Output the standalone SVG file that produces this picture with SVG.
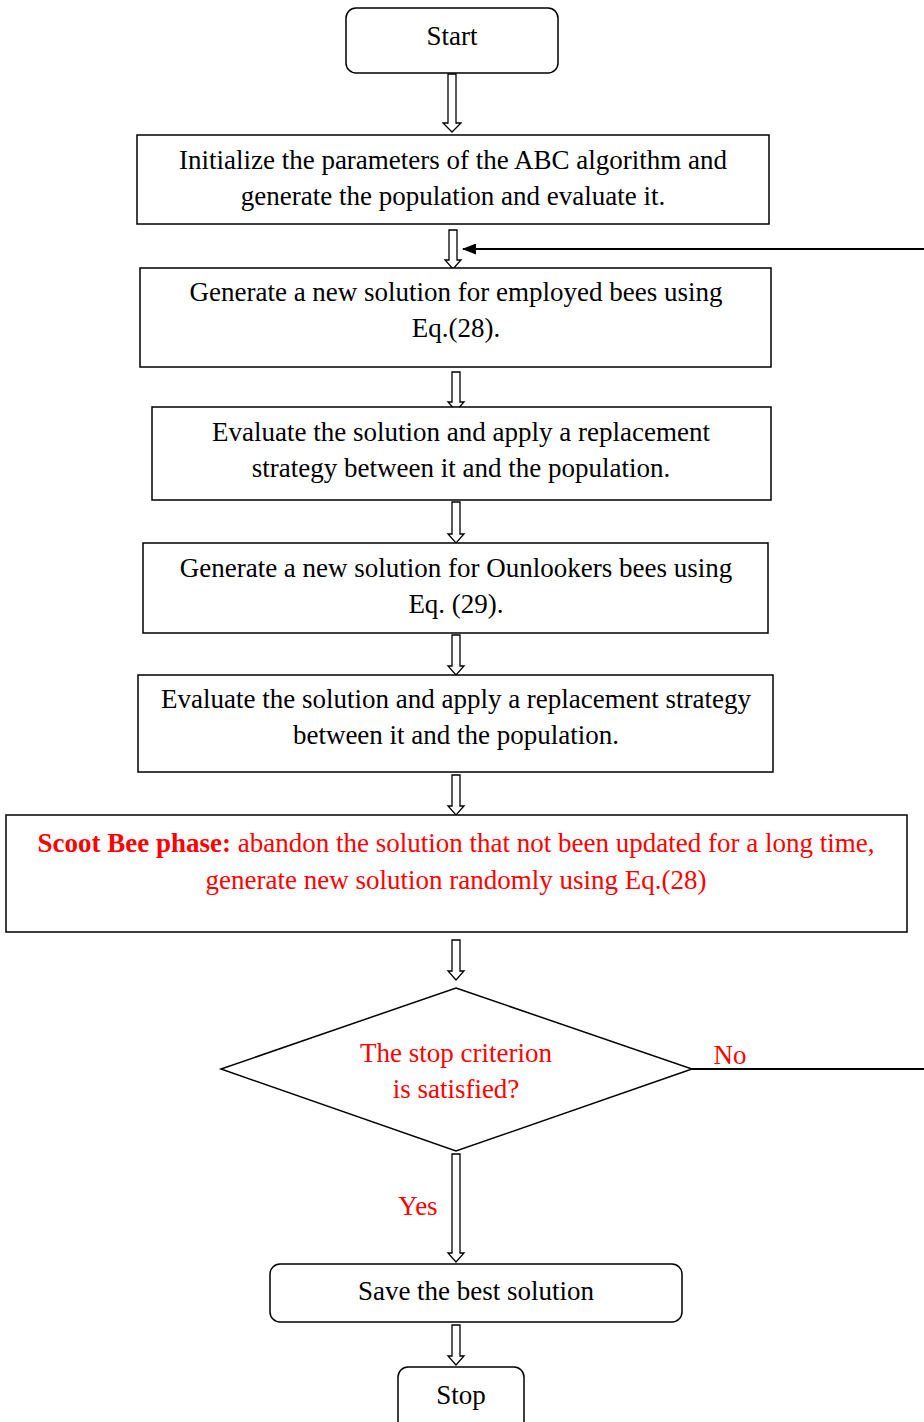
<svg xmlns="http://www.w3.org/2000/svg" width="924" height="1422" viewBox="0 0 924 1422">
<style>
.box{fill:#fff;stroke:#000;stroke-width:1.5}
.t{font-family:"Liberation Serif","Times New Roman",serif;font-size:27px;fill:#000;text-anchor:middle}
.r{fill:#f00}
.ha{fill:#fff;stroke:#000;stroke-width:1.3}
.ln{stroke:#000;stroke-width:2;fill:none}
</style>
<defs>
<marker id="ah" viewBox="0 0 14 11" refX="13" refY="5.5" markerWidth="14" markerHeight="11" markerUnits="userSpaceOnUse" orient="auto"><path d="M0,0L14,5.5L0,11z" fill="#000"/></marker>
</defs>
<g id="connectors">
<path class="ha" d="M448,74V123H443L452,132L461,123H456V74Z"/>
<path class="ha" d="M449,230V260H445L453,269L461,260H457V230Z"/>
<path class="ha" d="M452,372V402H448L456,411L464,402H460V372Z"/>
<path class="ha" d="M452,502V534H448L456,543L464,534H460V502Z"/>
<path class="ha" d="M452,635V666H448L456,675L464,666H460V635Z"/>
<path class="ha" d="M452,775V806H448L456,815L464,806H460V775Z"/>
<path class="ha" d="M452,940V971H448L456,980L464,971H460V940Z"/>
<path class="ha" d="M452,1154V1253H448L456,1262L464,1253H460V1154Z"/>
<path class="ha" d="M452,1325V1356H448L456,1365L464,1356H460V1325Z"/>
<path class="ln" d="M692,1069H924"/>
<path class="ln" d="M924,249H463" marker-end="url(#ah)"/>
<text class="t r" x="730" y="1064">No</text>
<text class="t r" x="418" y="1215">Yes</text>
</g>
<g id="start"><rect class="box" x="346" y="8" width="212" height="65" rx="10"/><text class="t" x="452" y="45">Start</text></g>
<g id="init"><rect class="box" x="137" y="135" width="632" height="89"/><text class="t" x="453" y="169">Initialize the parameters of the ABC algorithm and</text><text class="t" x="453" y="205">generate the population and evaluate it.</text></g>
<g id="employed"><rect class="box" x="140" y="268" width="631" height="99"/><text class="t" x="456" y="301">Generate a new solution for employed bees using</text><text class="t" x="456" y="337">Eq.(28).</text></g>
<g id="eval1"><rect class="box" x="152" y="407" width="619" height="93"/><text class="t" x="461" y="441">Evaluate the solution and apply a replacement</text><text class="t" x="461" y="477">strategy between it and the population.</text></g>
<g id="onlooker"><rect class="box" x="143" y="543" width="625" height="90"/><text class="t" x="456" y="577">Generate a new solution for Ounlookers bees using</text><text class="t" x="456" y="613">Eq. (29).</text></g>
<g id="eval2"><rect class="box" x="138" y="675" width="635" height="97"/><text class="t" x="456" y="708">Evaluate the solution and apply a replacement strategy</text><text class="t" x="456" y="744">between it and the population.</text></g>
<g id="scout"><rect class="box" x="6" y="815" width="901" height="117"/><text class="t r" x="456" y="852"><tspan font-weight="bold">Scoot Bee phase:</tspan> abandon the solution that not been updated for a long time,</text><text class="t r" x="456" y="889">generate new solution randomly using Eq.(28)</text></g>
<g id="decision"><path class="box" d="M456,988L692,1069L456,1151L221,1069Z"/><text class="t r" x="456" y="1062">The stop criterion</text><text class="t r" x="456" y="1098">is satisfied?</text></g>
<g id="save"><rect class="box" x="270" y="1264" width="412" height="58" rx="10"/><text class="t" x="476" y="1300">Save the best solution</text></g>
<g id="stop"><rect class="box" x="398" y="1367" width="126" height="70" rx="10"/><text class="t" x="461" y="1404">Stop</text></g>
</svg>
